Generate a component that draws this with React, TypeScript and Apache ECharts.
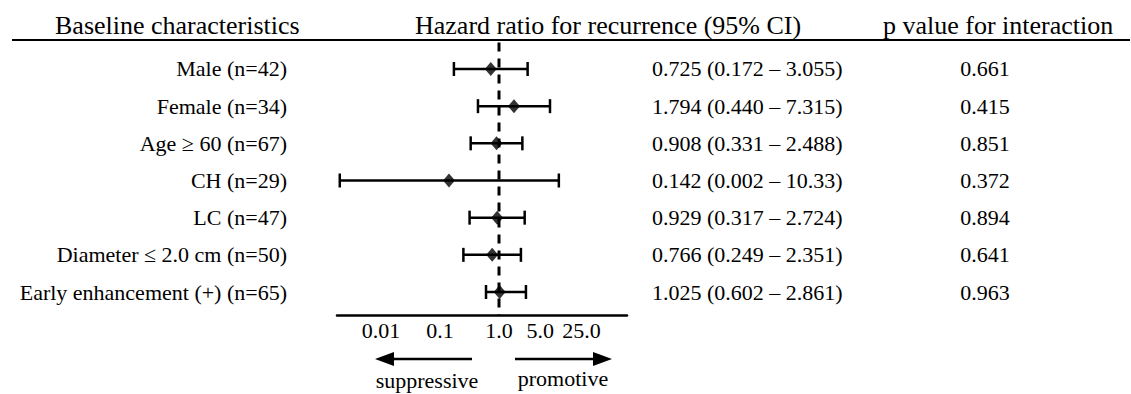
import React, { useEffect, useRef } from 'react';
import * as echarts from 'echarts';

const rowLabels = [
  'Male (n=42)',
  'Female (n=34)',
  'Age ≥ 60 (n=67)',
  'CH (n=29)',
  'LC (n=47)',
  'Diameter ≤ 2.0 cm (n=50)',
  'Early enhancement (+) (n=65)',
];
const hazardRatio = [0.725, 1.794, 0.908, 0.142, 0.929, 0.766, 1.025];
const ciLower = [0.172, 0.44, 0.331, 0.002, 0.317, 0.249, 0.602];
const ciUpper = [3.055, 7.315, 2.488, 10.33, 2.724, 2.351, 2.861];
const pInteraction = ['0.661', '0.415', '0.851', '0.372', '0.894', '0.641', '0.963'];
const tickValues = [0.01, 0.1, 1, 5, 25];
const tickLabels = ['0.01', '0.1', '1.0', '5.0', '25.0'];

const fmt = (v: number) => (v >= 10 ? v.toFixed(2) : v.toFixed(3));
const ciLabels = hazardRatio.map(
  (v, i) => `${fmt(v)} (${fmt(ciLower[i])} – ${fmt(ciUpper[i])})`
);

const FONT = '"Liberation Serif", "Times New Roman", serif';
const INK = '#000';
const X_MIN = 0.001795;
const X_MAX = 147.7;

export default function App() {
  const ref = useRef<HTMLDivElement>(null);
  useEffect(() => {
    if (!ref.current) return;
    const chart = echarts.init(ref.current, null, { renderer: 'svg' });
    const catLabel = { fontSize: 22, fontFamily: FONT, color: INK };
    const option: any = {
      animation: false,
      backgroundColor: '#fff',
      grid: [
        { left: 337, right: 504, top: 50.4, bottom: 83.4 },
        { left: 337, right: 504, top: 319, height: 22 },
      ],
      xAxis: [
        {
          type: 'log',
          logBase: 10,
          gridIndex: 0,
          min: X_MIN,
          max: X_MAX,
          offset: 5,
          axisLine: { show: true, lineStyle: { color: INK, width: 2.5 } },
          axisTick: { show: false },
          axisLabel: { show: false },
          splitLine: { show: false },
        },
        {
          type: 'log',
          logBase: 10,
          gridIndex: 1,
          min: X_MIN,
          max: X_MAX,
          show: false,
          splitLine: { show: false },
        },
      ],
      yAxis: [
        {
          type: 'category',
          gridIndex: 0,
          data: rowLabels,
          inverse: true,
          position: 'left',
          axisLine: { show: false },
          axisTick: { show: false },
          axisLabel: { ...catLabel, margin: 50 },
        },
        {
          type: 'category',
          gridIndex: 0,
          data: ciLabels,
          inverse: true,
          position: 'right',
          offset: 0,
          axisLine: { show: false },
          axisTick: { show: false },
          axisLabel: { ...catLabel, margin: 25, align: 'left' },
        },
        {
          type: 'category',
          gridIndex: 0,
          data: pInteraction,
          inverse: true,
          position: 'right',
          offset: 0,
          axisLine: { show: false },
          axisTick: { show: false },
          axisLabel: { ...catLabel, margin: 358, align: 'center' },
        },
        {
          type: 'value',
          gridIndex: 1,
          min: 0,
          max: 1,
          show: false,
          splitLine: { show: false },
        },
      ],
      series: [
        {
          type: 'custom',
          name: 'reference',
          xAxisIndex: 0,
          yAxisIndex: 0,
          clip: false,
          encode: { x: 0, y: 1 },
          data: [[1, 0]],
          z: 1,
          renderItem: (params: any, api: any) => {
            const cs = params.coordSys;
            const x = api.coord([api.value(0), 0])[0];
            return {
              type: 'line',
              shape: { x1: x, y1: cs.y - 8, x2: x, y2: cs.y + cs.height + 5 },
              style: { stroke: INK, lineWidth: 3, lineDash: [9, 7] },
            };
          },
        },
        {
          type: 'custom',
          name: 'CI',
          xAxisIndex: 0,
          yAxisIndex: 0,
          clip: false,
          encode: { x: [1, 2], y: 0 },
          data: rowLabels.map((_, i) => [i, ciLower[i], ciUpper[i]]),
          z: 2,
          renderItem: (params: any, api: any) => {
            const i = api.value(0);
            const lo = api.coord([api.value(1), i]);
            const hi = api.coord([api.value(2), i]);
            const h = 7;
            const style = { stroke: INK, lineWidth: 2.5 };
            return {
              type: 'group',
              children: [
                { type: 'line', shape: { x1: lo[0], y1: lo[1], x2: hi[0], y2: hi[1] }, style },
                { type: 'line', shape: { x1: lo[0], y1: lo[1] - h, x2: lo[0], y2: lo[1] + h }, style },
                { type: 'line', shape: { x1: hi[0], y1: hi[1] - h, x2: hi[0], y2: hi[1] + h }, style },
              ],
            };
          },
        },
        {
          type: 'scatter',
          name: 'HR',
          xAxisIndex: 0,
          yAxisIndex: 0,
          symbol: 'diamond',
          symbolSize: [12, 14],
          itemStyle: { color: '#000' },
          z: 3,
          data: hazardRatio.map((v, i) => [v, i]),
        },
        {
          type: 'scatter',
          name: 'ticks',
          xAxisIndex: 1,
          yAxisIndex: 3,
          symbolSize: 1,
          itemStyle: { color: '#fff', opacity: 0 },
          label: {
            show: true,
            position: 'inside',
            fontSize: 22,
            fontFamily: FONT,
            color: INK,
            opacity: 1,
            textBorderWidth: 0,
            textBorderColor: 'transparent',
            formatter: (p: any) => tickLabels[p.dataIndex],
          },
          data: tickValues.map((v) => [v, 0.5]),
        },
      ],
      graphic: [
        { type: 'line', shape: { x1: 12, y1: 40, x2: 1130, y2: 40 }, style: { stroke: INK, lineWidth: 2.2 } },
        {
          type: 'text', x: 55, y: 25,
          style: { text: 'Baseline characteristics', fontSize: 26, fontFamily: FONT, fill: INK, align: 'left', verticalAlign: 'middle' },
        },
        {
          type: 'text', x: 415, y: 25,
          style: { text: 'Hazard ratio for recurrence (95% CI)', fontSize: 26, fontFamily: FONT, fill: INK, align: 'left', verticalAlign: 'middle' },
        },
        {
          type: 'text', x: 883, y: 25,
          style: { text: 'p value for interaction', fontSize: 26, fontFamily: FONT, fill: INK, align: 'left', verticalAlign: 'middle' },
        },
        { type: 'line', shape: { x1: 472, y1: 359, x2: 390, y2: 359 }, style: { stroke: INK, lineWidth: 2.5 } },
        { type: 'polygon', shape: { points: [[375, 359], [394, 352], [394, 366]] }, style: { fill: INK } },
        { type: 'line', shape: { x1: 515, y1: 359, x2: 597, y2: 359 }, style: { stroke: INK, lineWidth: 2.5 } },
        { type: 'polygon', shape: { points: [[612, 359], [593, 352], [593, 366]] }, style: { fill: INK } },
        {
          type: 'text', x: 427, y: 380,
          style: { text: 'suppressive', fontSize: 22, fontFamily: FONT, fill: INK, align: 'center', verticalAlign: 'middle' },
        },
        {
          type: 'text', x: 563, y: 378,
          style: { text: 'promotive', fontSize: 22, fontFamily: FONT, fill: INK, align: 'center', verticalAlign: 'middle' },
        },
      ],
    };
    chart.setOption(option);
    return () => chart.dispose();
  }, []);
  return (
    <div
      ref={ref}
      style={{ position: 'absolute', left: 0, top: 0, width: 1131, height: 394, background: '#fff' }}
    />
  );
}
